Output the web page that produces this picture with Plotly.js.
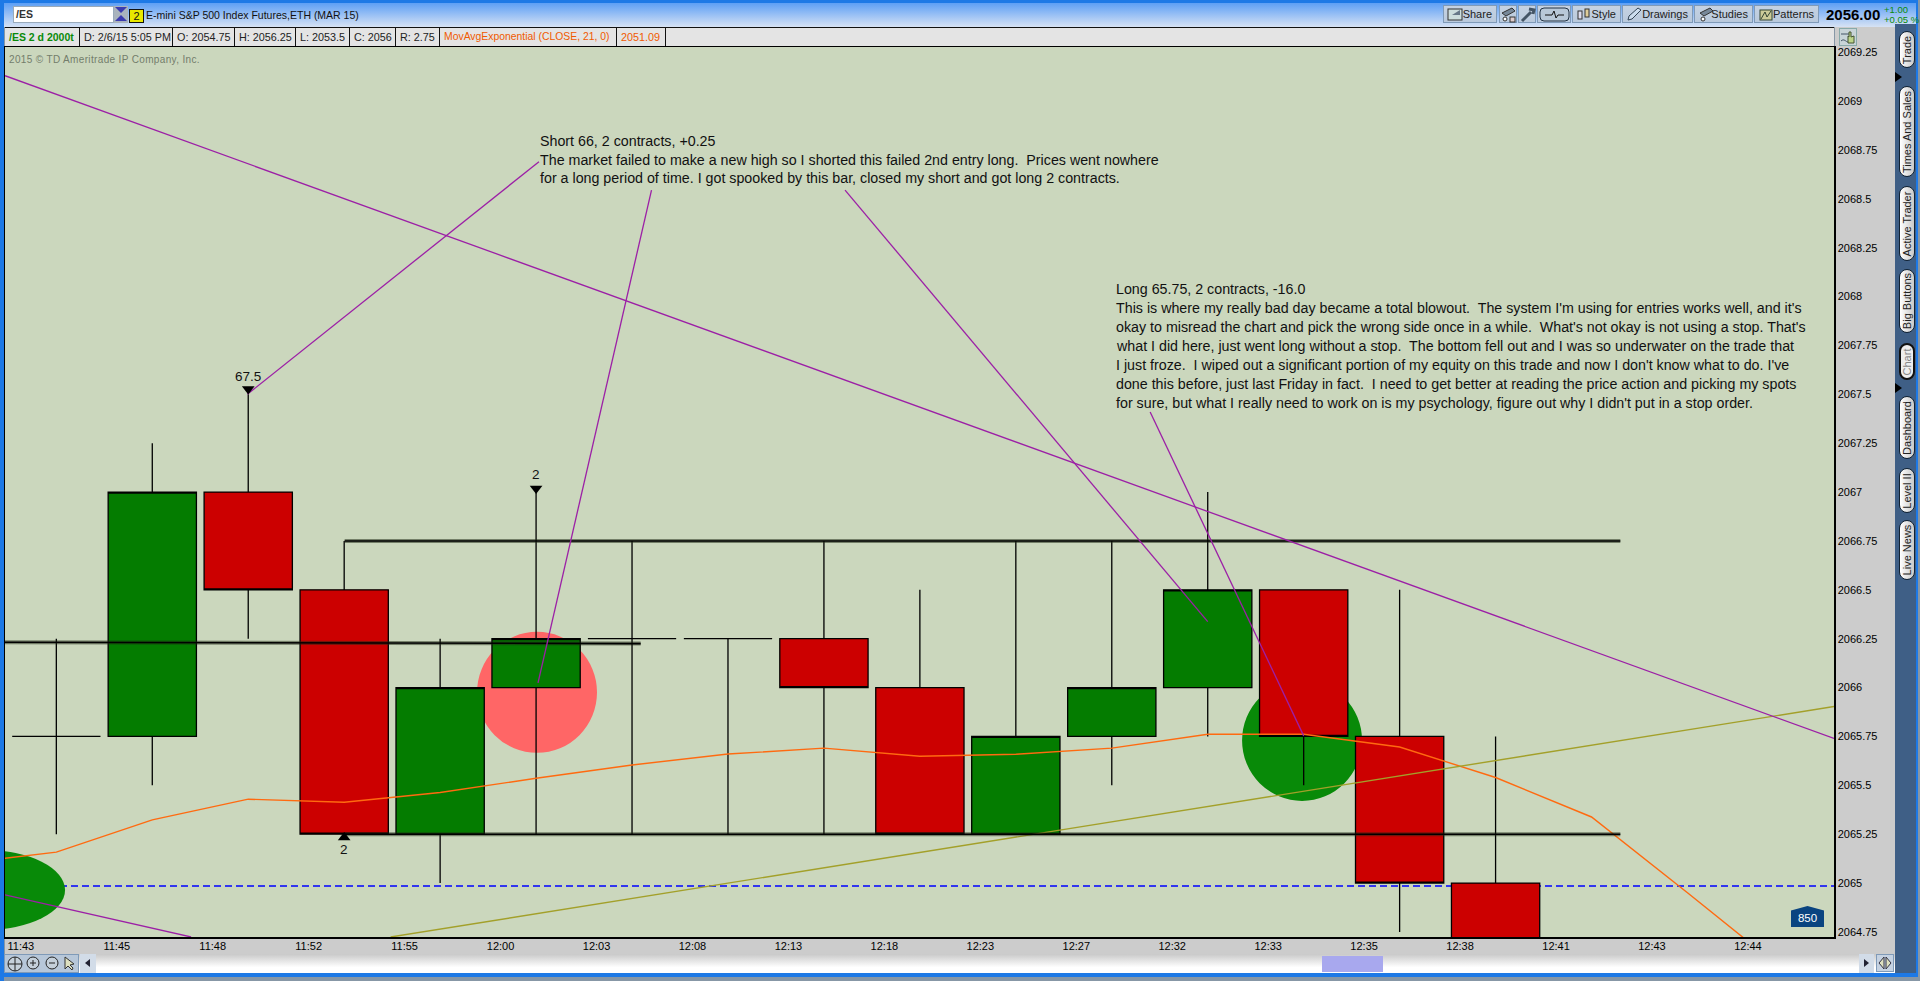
<!DOCTYPE html>
<html>
<head>
<meta charset="utf-8">
<script src="https://cdn.plot.ly/plotly-3.0.1.min.js"></script>
<style>
html,body{margin:0;padding:0;width:1920px;height:981px;overflow:hidden;background:#8797a6;font-family:"Liberation Sans",Arial,sans-serif;color:#111}
#ui div,#over div{position:absolute;box-sizing:border-box;white-space:nowrap}
#ui{position:absolute;left:0;top:0;width:1920px;height:981px}
#over{position:absolute;left:0;top:0;width:1920px;height:981px;pointer-events:none}
#chart{position:absolute;left:0;top:0;width:1920px;height:981px}
.cell{top:27px;height:20px;border-right:1px solid #111;font-size:10.8px;line-height:20px;padding-left:4px;color:#222;overflow:hidden}
.btn{top:5px;height:18px;background:linear-gradient(#c5d2e2,#b9c9dc);border:1px solid #7f9ab8;font-size:11px;line-height:16px;color:#222;text-align:right;padding-right:4px}
.tab{left:1899px;width:16px;border-radius:8px;background:linear-gradient(90deg,#fff,#c9c9c9);border:1px solid #123}
.tab span{position:absolute;left:50%;top:50%;transform:translate(-50%,-50%) rotate(-90deg);font-size:11px;color:#222;white-space:nowrap}
.ic{position:absolute;left:3px;top:1px}
</style>
</head>
<body>
<div id="ui">
  <div style="left:0;top:0;width:1920px;height:3px;background:#1d79e6"></div>
  <div style="left:0;top:3px;width:1920px;height:24px;background:linear-gradient(#5d9ff5,#d6e2f4)"></div>
  <div style="left:0;top:0;width:4px;height:981px;background:#1d79e6"></div>
  <div style="left:1916px;top:0;width:2px;height:977px;background:#1d79e6"></div>
  <div style="left:1918px;top:0;width:2px;height:981px;background:#8797a6"></div>
  <div style="left:13px;top:6px;width:101px;height:17px;background:#fff;border:1px solid #9ab;font-size:10.5px;line-height:15px;font-weight:bold;padding-left:2px;color:#333">/ES</div>
  <div style="left:114px;top:6px;width:14px;height:17px;background:#a9b3bd"><svg width="14" height="17"><path d="M1 1H13L7 7Z" fill="#3b3bb0"/><path d="M7 9L13 15H1Z" fill="#3b3bb0"/></svg></div>
  <div style="left:129px;top:9px;width:15px;height:14px;background:#e8e800;border:1px solid #111;font-size:11px;line-height:12px;text-align:center">2</div>
  <div style="left:146px;top:7px;font-size:10.5px;line-height:16px;color:#111">E-mini S&amp;P 500 Index Futures,ETH (MAR 15)</div>

  <div style="left:5px;top:27px;width:1829px;height:20px;background:#e4e4e4;border-top:1px solid #111"></div>
  <div class="cell" style="left:5px;width:75px;font-weight:bold;color:#0a8a0a;font-size:10.5px;padding-left:4px">/ES 2 d 2000t</div>
  <div class="cell" style="left:80px;width:93px">D: 2/6/15 5:05 PM</div>
  <div class="cell" style="left:173px;width:62px">O: 2054.75</div>
  <div class="cell" style="left:235px;width:61px">H: 2056.25</div>
  <div class="cell" style="left:296px;width:54px">L: 2053.5</div>
  <div class="cell" style="left:350px;width:46px">C: 2056</div>
  <div class="cell" style="left:396px;width:44px">R: 2.75</div>
  <div class="cell" style="left:440px;width:177px;color:#f05a00;font-size:10.4px">MovAvgExponential (CLOSE, 21, 0)</div>
  <div class="cell" style="left:617px;width:49px;color:#f05a00">2051.09</div>

  <div class="btn" style="left:1443px;width:54px"><svg class="ic" width="18" height="14"><rect x="1" y="2" width="14" height="11" fill="#cdd" stroke="#333"/><path d="M5 8L13 3L13 8Z" fill="#678"/></svg>Share</div>
  <div class="btn" style="left:1499px;width:18px"><svg class="ic" style="left:0" width="17" height="16"><path d="M2 6L12 1L15 4L6 9Z" fill="#789" stroke="#333"/><circle cx="5" cy="12" r="2" fill="#fff" stroke="#333"/><rect x="10" y="10" width="5" height="5" fill="#dcc" stroke="#333"/></svg></div>
  <div class="btn" style="left:1518px;width:18px"><svg class="ic" style="left:0" width="17" height="16"><path d="M3 14L12 5M10 2L15 3L14 7" fill="none" stroke="#456" stroke-width="3"/></svg></div>
  <div class="btn" style="left:1537px;width:34px"><svg style="position:absolute;left:1px;top:1px" width="31" height="15"><rect x="1" y="1" width="29" height="13" rx="4" fill="#b8c8d8" stroke="#234"/><path d="M6 8H13L15 4L17 11L19 8H25" fill="none" stroke="#111"/></svg></div>
  <div class="btn" style="left:1572px;width:49px"><svg class="ic" width="16" height="15"><rect x="2" y="4" width="4" height="8" fill="#dde" stroke="#333"/><rect x="9" y="2" width="4" height="8" fill="#dc9" stroke="#333"/></svg>Style</div>
  <div class="btn" style="left:1622px;width:71px"><svg class="ic" width="16" height="15"><path d="M2 13L3 9L12 1L15 3L6 12Z" fill="#cde" stroke="#345"/></svg>Drawings</div>
  <div class="btn" style="left:1694px;width:59px"><svg class="ic" width="16" height="15"><path d="M2 6L12 1L15 4L6 9Z" fill="#789" stroke="#333"/><circle cx="5" cy="12" r="2" fill="#fff" stroke="#333"/></svg>Studies</div>
  <div class="btn" style="left:1754px;width:65px"><svg class="ic" width="17" height="15"><rect x="2" y="3" width="12" height="10" fill="#cc9" stroke="#343"/><path d="M3 12L7 5L9 10L13 4" fill="none" stroke="#343"/></svg>Patterns</div>

  <div style="left:1826px;top:6px;font-size:15px;line-height:18px;font-weight:bold;color:#000">2056.00</div>
  <div style="left:1884px;top:4px;font-size:9.5px;line-height:12px;color:#0a8a0a">+1.00</div>
  <div style="left:1884px;top:14px;font-size:9.5px;line-height:12px;color:#0a8a0a">+0.05 %</div>

  <div style="left:5px;top:937px;width:1890px;height:17px;background:#cccccc"></div>
  <div style="left:1835px;top:27px;width:60px;height:911px;background:#cccccc"></div>
  <div style="left:1839px;top:28px;width:18px;height:18px;background:#c8d4d8;border:1px solid #8aa"><svg width="16" height="16"><path d="M1 5H11M1 12C4 9 6 13 8 13" fill="none" stroke="#456"/><path d="M8 7V14H14V7L11 8V3H9V8Z" fill="#bcd48a" stroke="#453"/></svg></div>

  <div style="left:1895px;top:24px;width:21px;height:950px;background:#3f5f86"></div>
  <div style="left:1895px;top:72px;width:0;height:0;border-left:7px solid #000;border-top:5px solid transparent;border-bottom:5px solid transparent"></div>
  <div style="left:1895px;top:383px;width:0;height:0;border-left:7px solid #000;border-top:5px solid transparent;border-bottom:5px solid transparent"></div>
  <div class="tab" style="top:31px;height:37px"><span>Trade</span></div>
  <div class="tab" style="top:86px;height:91px"><span>Times And Sales</span></div>
  <div class="tab" style="top:186px;height:75px"><span>Active Trader</span></div>
  <div class="tab" style="top:269px;height:64px"><span>Big Buttons</span></div>
  <div class="tab" style="top:343px;height:37px;border:2px solid #111;background:#eee"><span style="color:#888">Chart</span></div>
  <div class="tab" style="top:396px;height:63px"><span>Dashboard</span></div>
  <div class="tab" style="top:468px;height:45px"><span>Level II</span></div>
  <div class="tab" style="top:520px;height:60px"><span>Live News</span></div>

  <div style="left:4px;top:954px;width:1891px;height:19px;background:linear-gradient(#c9c9c9,#ffffff 70%)"></div>
  <div style="left:4px;top:954px;width:75px;height:19px;background:#b7c7d9;border:1px solid #7f9ab8"><svg width="73" height="17"><g fill="#c5d0da" stroke="#222"><circle cx="10" cy="9" r="7"/><circle cx="28" cy="8" r="6"/><circle cx="47" cy="8" r="6"/></g><path d="M3 9H17M10 2V16M25 8H31M28 5V11M44 8H50" stroke="#222" fill="none"/><path d="M60 2L60 14L63 11L67 15L68 13L65 10L69 9Z" fill="#dde0c0" stroke="#333"/></svg></div>
  <div style="left:80px;top:954px;width:16px;height:19px;background:#d2dce8"><svg width="16" height="19"><path d="M10 5V13L5 9Z" fill="#223"/></svg></div>
  <div style="left:1322px;top:956px;width:61px;height:16px;background:#a8a8ee"></div>
  <div style="left:1859px;top:954px;width:15px;height:19px;background:#d2dce8"><svg width="15" height="19"><path d="M5 5V13L10 9Z" fill="#223"/></svg></div>
  <div style="left:1876px;top:954px;width:18px;height:18px;background:#c5d2e2;border:1px solid #7f9ab8"><svg width="16" height="16"><path d="M7 2L2 8L7 14ZM9 2L14 8L9 14Z" fill="#dde0c0" stroke="#334"/></svg></div>
  <div style="left:0;top:973px;width:1918px;height:4px;background:#1d79e6"></div>
</div>
<div id="chart"></div>
<div id="over">
  <div style="left:9px;top:53px;font-size:10px;line-height:14px;letter-spacing:.35px;color:#737d6b">2015 © TD Ameritrade IP Company, Inc.</div>
  <div style="left:1791px;top:906px;width:33px;height:21px;background:#0a4480;clip-path:polygon(0 22%,50% 0,100% 22%,100% 100%,0 100%);color:#fff;font-size:11.5px;line-height:24px;text-align:center">850</div>
</div>
<script>
// Candles, one per 2000-tick bar
const slots  = [0,1,2,3,4,5,6,7,8,9,10,11,12,13,14,15];
const opens  = [2065.75,2065.75,2067,2066.5,2065.25,2066,2066.25,2066.25,2066.25,2066,2065.25,2065.75,2066,2066.5,2065.75,2065];
const closes = [2065.75,2067,2066.5,2065.25,2066,2066.25,2066.25,2066.25,2066,2065.25,2065.75,2066,2066.5,2065.75,2065,2064.5];
const highs  = [2066.25,2067.25,2067.5,2066.75,2066.25,2067,2066.75,2066.25,2066.75,2066.5,2066.75,2066.75,2067,2066.5,2066.5,2065.75];
const lows   = [2065.25,2065.5,2066.25,2065.25,2065,2065.25,2065.25,2065.25,2065.25,2065.25,2065.25,2065.5,2065.75,2065.5,2064.75,2064.25];

// Axis labels
const timeLabels = ["11:43","11:45","11:48","11:52","11:55","12:00","12:03","12:08","12:13","12:18","12:23","12:27","12:32","12:33","12:35","12:38","12:41","12:43","12:44"];
const timeTicks  = [-0.37,0.63,1.63,2.63,3.63,4.63,5.63,6.63,7.63,8.63,9.63,10.63,11.63,12.63,13.63,14.63,15.63,16.63,17.63];
const priceTicks = [2064.75,2065,2065.25,2065.5,2065.75,2066,2066.25,2066.5,2066.75,2067,2067.25,2067.5,2067.75,2068,2068.25,2068.5,2068.75,2069,2069.25];
const priceLabels = ["2064.75","2065","2065.25","2065.5","2065.75","2066","2066.25","2066.5","2066.75","2067","2067.25","2067.5","2067.75","2068","2068.25","2068.5","2068.75","2069","2069.25"];
const slotRange  = [-0.535,18.527];
const priceRange = [2064.724,2069.277];

// Moving average
const emaSlots  = [-1,0,1,2,3,4,5,6,7,8,9,10,11,12,13,14,15,16,17,18];
const emaValues = [2065.10,2065.158,2065.323,2065.429,2065.413,2065.463,2065.536,2065.604,2065.66,2065.69,2065.649,2065.659,2065.69,2065.761,2065.761,2065.696,2065.54,2065.338,2064.95,2064.556];

// Support and resistance lines
const resistX = [3.005,16.3],  resistY = [2066.75,2066.75];
const supportX = [3.005,16.3], supportY = [2065.25,2065.25];
const midX = [-0.535,6.09],    midY = [2066.232,2066.225];

// Drawn trend lines and callouts
const trendX = [-0.535,18.527], trendY = [2069.13,2065.74];
const olivX  = [3.484,18.527],  olivY  = [2064.724,2065.903];
const lowPurpleX = [-0.535,1.404], lowPurpleY = [2064.94,2064.724];
const call1X = [5.03,1.99],  call1Y = [2068.69,2067.5];
const call2X = [6.203,5.02], call2Y = [2068.545,2066.024];
const call3X = [8.22,12.0],  call3Y = [2068.545,2066.337];
const call4X = [11.40,13.0], call4Y = [2067.41,2065.753];

// Last-price dashed line
const lastLevel = 2064.985;

// Fill circles
const redCircleX = [4.385,5.635],    redCircleY = [2065.666,2066.285];
const greenCircleX = [12.358,13.608], greenCircleY = [2065.42,2066.039];
const leftCircleX = [-1.577,0.091],  leftCircleY = [2064.76,2065.169];

// Trade markers
const sellX = [2,5], sellY = [2067.527,2067.019], sellText = ["67.5","2"], sellTextY = [2067.59,2067.088];
const buyX = [3], buyY = [2065.233], buyText = ["2"], buyTextY = [2065.17];

// Notes
const noteShort = [
 "Short 66, 2 contracts, +0.25",
 "The market failed to make a new high so I shorted this failed 2nd entry long.\u00A0 Prices went nowhere",
 "for a long period of time. I got spooked by this bar, closed my short and got long 2 contracts."];
const noteShortX = 5.03;
const noteShortY = [2068.796,2068.701,2068.607];
const noteLong = [
 "Long 65.75, 2 contracts, -16.0",
 "This is where my really bad day became a total blowout.\u00A0 The system I'm using for entries works well, and it's",
 "okay to misread the chart and pick the wrong side once in a while.\u00A0 What's not okay is not using a stop. That's",
 "what I did here, just went long without a stop.\u00A0 The bottom fell out and I was so underwater on the trade that",
 "I just froze.\u00A0 I wiped out a significant portion of my equity on this trade and now I don't know what to do. I've",
 "done this before, just last Friday in fact.\u00A0 I need to get better at reading the price action and picking my spots",
 "for sure, but what I really need to work on is my psychology, figure out why I didn't put in a stop order."];
const noteLongX = 11.034;
const noteLongY = [2068.039,2067.942,2067.845,2067.747,2067.65,2067.553,2067.456];

const FONT = '"Liberation Sans",Arial,sans-serif';
const purple = '#9c1fa6', olive = '#a3a02a', orange = '#ff6a10';
function line(x, y, color, width){
  return {type:'scatter', mode:'lines', x:x, y:y, line:{color:color, width:width}, hoverinfo:'skip', showlegend:false};
}
const traces = [
  {type:'candlestick', x:slots, open:opens, high:highs, low:lows, close:closes, whiskerwidth:0,
   increasing:{line:{color:'#000',width:1.3}, fillcolor:'#047c00'},
   decreasing:{line:{color:'#000',width:1.3}, fillcolor:'#cc0000'},
   hoverinfo:'skip', showlegend:false},
  line(emaSlots, emaValues, orange, 1.4),
  line(olivX, olivY, olive, 1.4),
  line(resistX, resistY, 'rgba(30,40,20,0.5)', 4), line(resistX, resistY, '#000', 1.6),
  line(supportX, supportY, 'rgba(30,40,20,0.5)', 4), line(supportX, supportY, '#000', 1.6),
  line(midX, midY, 'rgba(30,40,20,0.5)', 4), line(midX, midY, '#000', 1.6),
  line(trendX, trendY, purple, 1.3),
  line(lowPurpleX, lowPurpleY, purple, 1.3),
  line(call1X, call1Y, purple, 1.3),
  line(call2X, call2Y, purple, 1.3),
  line(call3X, call3Y, purple, 1.3),
  line(call4X, call4Y, purple, 1.3),
  {type:'scatter', mode:'markers', x:sellX, y:sellY, marker:{symbol:'triangle-down', size:11, color:'#000'}, hoverinfo:'skip', showlegend:false},
  {type:'scatter', mode:'markers', x:buyX, y:buyY, marker:{symbol:'triangle-up', size:11, color:'#000'}, hoverinfo:'skip', showlegend:false}
];
function ellipse(xs, ys, color){
  return {type:'circle', xref:'x', yref:'y', x0:xs[0], x1:xs[1], y0:ys[0], y1:ys[1], fillcolor:color, line:{width:0}, layer:'below'};
}
const shapes = [
  ellipse(redCircleX, redCircleY, '#ff6666'),
  ellipse(greenCircleX, greenCircleY, '#088a08'),
  ellipse(leftCircleX, leftCircleY, '#088a08'),
  {type:'line', xref:'paper', yref:'y', x0:0, x1:1, y0:lastLevel, y1:lastLevel, line:{color:'#0000ff', width:1.5, dash:'7px,4px'}, layer:'below'}
];
const annotations = [];
function note(x, y, text, size, anchor){
  annotations.push({x:x, y:y, text:text, xref:'x', yref:'y', showarrow:false, xanchor:anchor, yanchor:'middle', align:'left', borderpad:0, font:{family:FONT, size:size, color:'#111'}});
}
noteShort.forEach((t,i)=>note(noteShortX, noteShortY[i], t, 14.25, 'left'));
noteLong.forEach((t,i)=>note(noteLongX, noteLongY[i], t, 14.25, 'left'));
sellText.forEach((t,i)=>note(sellX[i], sellTextY[i], t, 13.5, 'center'));
buyText.forEach((t,i)=>note(buyX[i], buyTextY[i], t, 13.5, 'center'));

const layout = {
  width:1920, height:981, autosize:false,
  margin:{l:5, r:86, t:47, b:44, pad:0},
  paper_bgcolor:'rgba(0,0,0,0)', plot_bgcolor:'#cbd7bd',
  showlegend:false, boxgap:0.08, boxgroupgap:0,
  font:{family:FONT, size:11, color:'#000'},
  xaxis:{type:'linear', range:slotRange, tickmode:'array', tickvals:timeTicks, ticktext:timeLabels, ticks:'', showgrid:false, zeroline:false,
         showline:true, mirror:true, linecolor:'#000', linewidth:1.5, rangeslider:{visible:false}, tickfont:{family:FONT, size:11, color:'#000'}, ticklabelstandoff:-2, fixedrange:true},
  yaxis:{type:'linear', side:'right', range:priceRange, tickmode:'array', tickvals:priceTicks, ticktext:priceLabels, ticks:'', showgrid:false, zeroline:false,
         showline:true, mirror:true, linecolor:'#000', linewidth:1.5, tickfont:{family:FONT, size:11, color:'#000'}, fixedrange:true},
  shapes:shapes, annotations:annotations
};
Plotly.newPlot('chart', traces, layout, {displayModeBar:false, staticPlot:true, responsive:false});
</script>
</body>
</html>
